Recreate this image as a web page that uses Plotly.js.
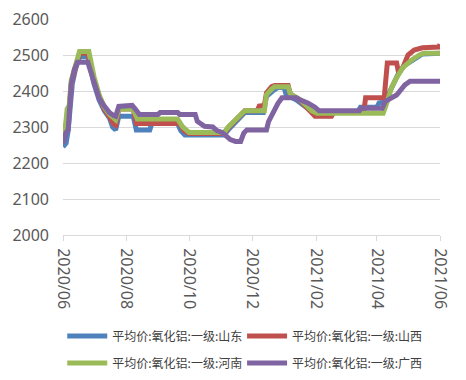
<!DOCTYPE html>
<html>
<head>
<meta charset="utf-8">
<script src="https://cdn.plot.ly/plotly-3.0.1.min.js"></script>
<style>html,body{margin:0;padding:0;background:#fff;}#chart{width:466px;height:380px;}</style>
</head>
<body>
<div id="chart"></div>
<script>
// Series names
const names = ["平均价:氧化铝:一级:山东", "平均价:氧化铝:一级:山西", "平均价:氧化铝:一级:河南", "平均价:氧化铝:一级:广西"];

// 山东
const sdDates = ["2020-06-01","2020-06-04","2020-06-06","2020-06-08","2020-06-10","2020-06-13","2020-06-17","2020-06-25","2020-07-01","2020-07-06","2020-07-11","2020-07-16","2020-07-19","2020-07-22","2020-07-25","2020-08-08","2020-08-11","2020-08-24","2020-08-26","2020-09-20","2020-09-23","2020-09-27","2020-11-04","2020-11-08","2020-11-14","2020-11-20","2020-11-24","2020-12-12","2020-12-15","2020-12-21","2020-12-26","2021-01-01","2021-01-03","2021-01-13","2021-01-21","2021-01-27","2021-02-01","2021-03-13","2021-03-16","2021-04-01","2021-04-03","2021-04-09","2021-04-12","2021-04-17","2021-04-22","2021-04-27","2021-05-03","2021-05-10","2021-05-15","2021-06-01"];
const sdValues = [2245,2255,2290,2350,2420,2460,2495,2495,2420,2375,2345,2325,2300,2292,2330,2330,2292,2292,2310,2310,2290,2278,2278,2292,2310,2330,2340,2340,2385,2400,2410,2410,2390,2375,2360,2345,2340,2340,2355,2355,2367,2370,2390,2420,2450,2470,2482,2495,2503,2505];

// 山西
const sxDates = ["2020-06-01","2020-06-03","2020-06-05","2020-06-07","2020-06-09","2020-06-12","2020-06-15","2020-06-17","2020-06-25","2020-07-01","2020-07-06","2020-07-11","2020-07-16","2020-07-20","2020-07-22","2020-07-25","2020-08-08","2020-08-11","2020-09-22","2020-09-26","2020-10-01","2020-11-04","2020-11-08","2020-11-15","2020-11-24","2020-12-06","2020-12-08","2020-12-13","2020-12-15","2020-12-20","2020-12-23","2021-01-05","2021-01-07","2021-01-16","2021-01-22","2021-01-28","2021-01-31","2021-02-16","2021-02-18","2021-03-19","2021-03-21","2021-04-08","2021-04-11","2021-04-20","2021-04-22","2021-04-26","2021-05-01","2021-05-07","2021-05-15","2021-05-31","2021-06-01"];
const sxValues = [2280,2285,2330,2350,2420,2455,2485,2505,2505,2430,2385,2350,2328,2308,2305,2350,2350,2310,2310,2290,2282,2282,2298,2318,2345,2345,2358,2360,2395,2412,2415,2415,2392,2375,2355,2340,2330,2330,2340,2340,2381,2381,2478,2478,2450,2465,2500,2514,2520,2522,2530];

// 河南
const hnDates = ["2020-06-01","2020-06-03","2020-06-05","2020-06-07","2020-06-09","2020-06-12","2020-06-15","2020-06-17","2020-06-26","2020-07-01","2020-07-06","2020-07-11","2020-07-16","2020-07-20","2020-07-22","2020-07-25","2020-08-08","2020-08-12","2020-09-20","2020-09-25","2020-10-01","2020-11-04","2020-11-08","2020-11-15","2020-11-24","2020-12-13","2020-12-15","2020-12-20","2020-12-23","2021-01-05","2021-01-07","2021-01-16","2021-01-22","2021-01-28","2021-02-02","2021-04-07","2021-04-11","2021-04-15","2021-04-20","2021-04-26","2021-05-05","2021-05-12","2021-05-17","2021-06-01"];
const hnValues = [2285,2290,2350,2360,2430,2460,2490,2510,2510,2440,2390,2355,2335,2322,2320,2350,2350,2322,2322,2300,2285,2285,2300,2320,2345,2345,2390,2405,2412,2412,2392,2377,2362,2345,2338,2338,2371,2409,2437,2465,2487,2500,2505,2505];

// 广西
const gxDates = ["2020-06-01","2020-06-04","2020-06-06","2020-06-09","2020-06-12","2020-06-15","2020-06-25","2020-07-01","2020-07-06","2020-07-11","2020-07-16","2020-07-20","2020-07-22","2020-07-25","2020-08-07","2020-08-10","2020-08-14","2020-09-01","2020-09-03","2020-09-20","2020-09-22","2020-10-07","2020-10-09","2020-10-16","2020-10-24","2020-10-28","2020-11-02","2020-11-10","2020-11-15","2020-11-20","2020-11-23","2020-11-26","2020-12-15","2020-12-17","2020-12-21","2020-12-26","2020-12-30","2021-01-13","2021-01-16","2021-01-24","2021-01-31","2021-02-04","2021-03-15","2021-03-17","2021-04-06","2021-04-09","2021-04-20","2021-04-28","2021-05-03","2021-06-01"];
const gxValues = [2255,2285,2292,2420,2460,2480,2480,2420,2380,2358,2340,2332,2330,2357,2360,2350,2335,2335,2340,2340,2335,2335,2316,2302,2300,2290,2285,2265,2260,2260,2283,2292,2292,2315,2340,2365,2381,2381,2376,2367,2355,2345,2345,2352,2352,2371,2389,2417,2427,2427];

// Axis ticks
const xTickVals = ["2020-06-01","2020-08-01","2020-10-01","2020-12-01","2021-02-01","2021-04-01","2021-06-01"];
const xTickText = ["2020/06","2020/08","2020/10","2020/12","2021/02","2021/04","2021/06"];
const yTickVals = [2000,2100,2200,2300,2400,2500,2600];

const colors = ["#4F81BD","#C0504D","#9BBB59","#8064A2"];
const series = [[sdDates,sdValues],[sxDates,sxValues],[hnDates,hnValues],[gxDates,gxValues]];
const legendIds = ["legend","legend2","legend3","legend4"];

const traces = series.map((s,i)=>({
  type:"scatter", mode:"lines", x:s[0], y:s[1], name:names[i],
  line:{color:colors[i], width:5, shape:"linear"},
  legend: legendIds[i]
}));

const legendFont = {family:"Noto Sans CJK SC, Noto Sans, sans-serif", size:12, color:"#404040"};
function leg(x, y){
  return {orientation:"h", x:x, xanchor:"left", y:y, yanchor:"middle",
    font:legendFont, itemwidth:40, bgcolor:"rgba(0,0,0,0)", borderwidth:0};
}
const col1 = -0.002, col2 = 0.475, row1 = -0.468, row2 = -0.593;
const layout = {
  width:466, height:380,
  margin:{l:63, r:26, t:19, b:145, autoexpand:false},
  paper_bgcolor:"#ffffff", plot_bgcolor:"#ffffff",
  showlegend:true,
  font:{family:"Noto Sans, sans-serif", color:"#595959"},
  xaxis:{
    type:"date", range:["2020-06-01","2021-06-01"],
    tickvals:xTickVals, ticktext:xTickText, tickangle:90,
    showgrid:false, showline:true, linecolor:"#d9d9d9", linewidth:1,
    ticks:"outside", ticklen:5, tickcolor:"#d9d9d9",
    tickfont:{family:"Noto Sans, sans-serif", size:16, color:"#595959"},
    ticklabelstandoff:4, zeroline:false, fixedrange:true, automargin:false
  },
  yaxis:{
    range:[2000,2600], tickvals:yTickVals,
    showgrid:true, gridcolor:"#d9d9d9", gridwidth:1,
    showline:false, zeroline:false, ticks:"",
    tickfont:{family:"Noto Sans, sans-serif", size:16, color:"#595959"},
    ticklabelstandoff:13, fixedrange:true, automargin:false
  },
  legend: leg(col1,row1),
  legend2: leg(col2,row1),
  legend3: leg(col1,row2),
  legend4: leg(col2,row2)
};

Plotly.newPlot("chart", traces, layout, {displayModeBar:false, staticPlot:true});
</script>
</body>
</html>
